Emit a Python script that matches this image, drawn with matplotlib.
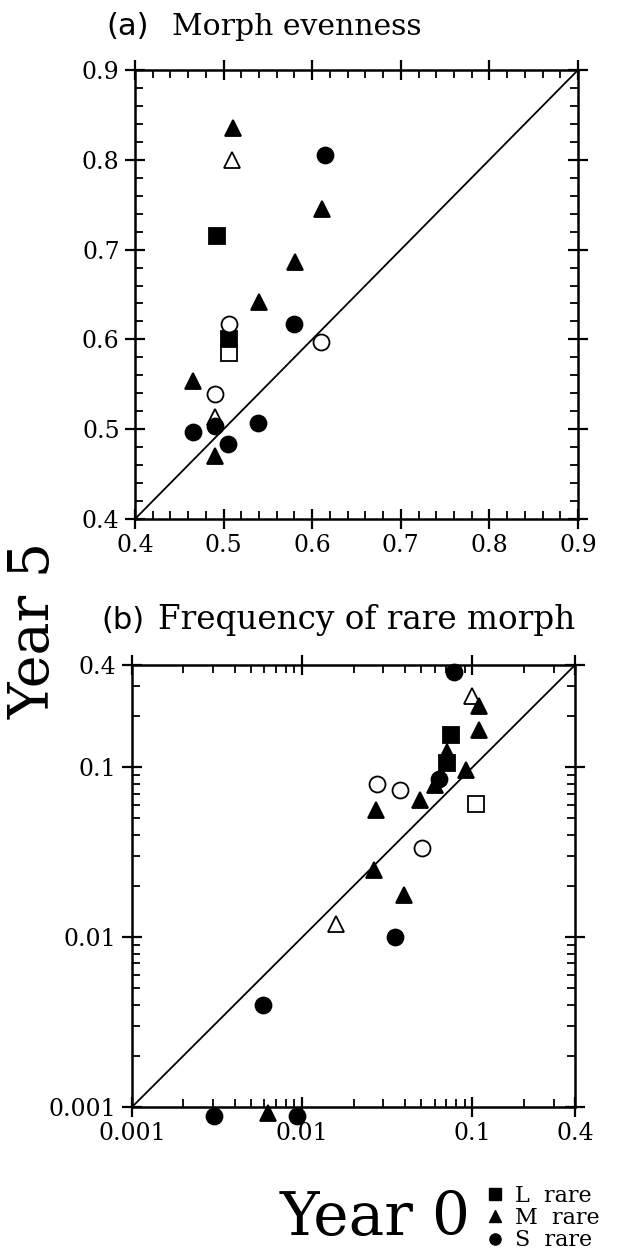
#!/usr/bin/env python
"""Morph evenness and rare-morph frequency, year 0 vs year 5."""

import matplotlib

matplotlib.use("Agg")
import matplotlib.pyplot as plt
from matplotlib.lines import Line2D
from matplotlib.ticker import FixedLocator, MultipleLocator, NullFormatter, LogLocator

# ---- data ----
# panel (a): morph evenness
even_year0 = [0.511, 0.611, 0.581, 0.540, 0.466, 0.490,
              0.510, 0.490,
              0.614, 0.580, 0.466, 0.539, 0.505,
              0.493, 0.506, 0.506,
              0.506, 0.610, 0.490, 0.490]
even_year5 = [0.835, 0.745, 0.686, 0.642, 0.554, 0.470,
              0.800, 0.514,
              0.805, 0.617, 0.497, 0.507, 0.483,
              0.715, 0.585, 0.600,
              0.617, 0.597, 0.539, 0.504]
even_morph = ["M", "M", "M", "M", "M", "M",
              "M", "M",
              "S", "S", "S", "S", "S",
              "L", "L", "L",
              "S", "S", "S", "S"]
even_filled = [True, True, True, True, True, True,
               False, False,
               True, True, True, True, True,
               True, False, True,
               False, False, False, True]

# panel (b): frequency of rare morph (points below 0.001 are zeros)
freq_year0 = [0.0776, 0.0995, 0.109, 0.109, 0.0743, 0.0712, 0.0712,
              0.0605, 0.0634, 0.091, 0.0275, 0.0377, 0.0494, 0.0271,
              0.105, 0.0506, 0.0263, 0.0394, 0.0158, 0.0352,
              0.00585, 0.00303, 0.00628, 0.00937]
freq_year5 = [0.364, 0.262, 0.229, 0.165, 0.154, 0.123, 0.106,
              0.0783, 0.0857, 0.0968, 0.080, 0.0733, 0.0646, 0.0558,
              0.0605, 0.0335, 0.0248, 0.0177, 0.0119, 0.0100,
              0.00398, 0.00089, 0.00092, 0.00089]
freq_morph = ["S", "M", "M", "M", "L", "M", "L",
              "M", "S", "M", "S", "S", "M", "M",
              "L", "S", "M", "M", "M", "S",
              "S", "S", "M", "S"]
freq_filled = [True, False, True, True, True, True, True,
               True, True, True, False, False, True, True,
               False, False, True, True, False, True,
               True, True, True, True]

even_ticks = [0.4, 0.5, 0.6, 0.7, 0.8, 0.9]
freq_ticks = [0.001, 0.01, 0.1, 0.4]
freq_ticklabels = ["0.001", "0.01", "0.1", "0.4"]

legend_labels = ["L  rare", "M  rare", "S  rare"]

MARKERS = {"L": "s", "M": "^", "S": "o"}
SIZES = {"L": 11.5, "M": 11.5, "S": 11.5}

SERIF = "DejaVu Serif"
plt.rcParams["font.family"] = SERIF


def scatter_points(ax, xs, ys, morphs, filled):
    for x, y, m, f in zip(xs, ys, morphs, filled):
        ax.plot(x, y, linestyle="none", marker=MARKERS[m], ms=SIZES[m],
                mfc="black" if f else "white", mec="black", mew=1.3,
                clip_on=False, zorder=3)


def style_ticks(ax):
    ax.tick_params(which="major", direction="inout", length=14, width=1.6,
                   top=True, right=True, labelsize=17, pad=4)
    ax.tick_params(which="minor", direction="in", length=6, width=1.3,
                   top=True, right=True)
    for sp in ax.spines.values():
        sp.set_linewidth(1.8)


fig = plt.figure(figsize=(6.21, 12.5), dpi=100)

# ---- panel (a) ----
ax_a = fig.add_axes([135 / 621, 1 - 519 / 1250, 443 / 621, 449 / 1250])
ax_a.plot([0.4, 0.9], [0.4, 0.9], color="black", lw=1.3, zorder=2)
scatter_points(ax_a, even_year0, even_year5, even_morph, even_filled)
ax_a.set_xlim(0.4, 0.9)
ax_a.set_ylim(0.4, 0.9)
ax_a.xaxis.set_major_locator(FixedLocator(even_ticks))
ax_a.yaxis.set_major_locator(FixedLocator(even_ticks))
ax_a.xaxis.set_minor_locator(MultipleLocator(0.02))
ax_a.yaxis.set_minor_locator(MultipleLocator(0.02))
ax_a.set_xticklabels([f"{t:.1f}" for t in even_ticks])
ax_a.set_yticklabels([f"{t:.1f}" for t in even_ticks])
style_ticks(ax_a)

# ---- panel (b) ----
ax_b = fig.add_axes([132 / 621, 1 - 1107 / 1250, 443 / 621, 442 / 1250])
ax_b.set_xscale("log")
ax_b.set_yscale("log")
ax_b.plot([0.001, 0.4], [0.001, 0.4], color="black", lw=1.3, zorder=2)
scatter_points(ax_b, freq_year0, freq_year5, freq_morph, freq_filled)
ax_b.set_xlim(0.001, 0.4)
ax_b.set_ylim(0.001, 0.4)
for axis in (ax_b.xaxis, ax_b.yaxis):
    axis.set_major_locator(FixedLocator(freq_ticks))
    axis.set_minor_locator(LogLocator(base=10, subs=range(2, 10)))
    axis.set_minor_formatter(NullFormatter())
ax_b.set_xticklabels(freq_ticklabels)
ax_b.set_yticklabels(freq_ticklabels)
style_ticks(ax_b)

# ---- titles and axis labels ----
fig.text(106 / 621, 1 - 35 / 1250, "(a)", family="DejaVu Sans", fontsize=22,
         va="baseline", ha="left")
fig.text(172 / 621, 1 - 35 / 1250, "Morph evenness", fontsize=21.5,
         va="baseline", ha="left")
fig.text(101 / 621, 1 - 629 / 1250, "(b)", family="DejaVu Sans", fontsize=22,
         va="baseline", ha="left")
fig.text(158 / 621, 1 - 629 / 1250, "Frequency of rare morph", fontsize=23.5,
         va="baseline", ha="left")

fig.text(34 / 621, 1 - 630 / 1250, "Year 5", fontsize=40, rotation=90,
         ha="center", va="center")
fig.text(375 / 621, 1 - 1218 / 1250, "Year 0", fontsize=43,
         ha="center", va="center")

handles = [Line2D([], [], linestyle="none", marker=MARKERS[m], ms=8,
                  mfc="black", mec="black") for m in ("L", "M", "S")]
fig.legend(handles, legend_labels, loc="center left",
           bbox_to_anchor=(486 / 621, 1 - 1218 / 1250), frameon=False,
           fontsize=16, handlelength=0.8, handletextpad=0.5,
           labelspacing=0.02, borderpad=0, borderaxespad=0)

fig.savefig("out.png", dpi=100)
plt.close(fig)
